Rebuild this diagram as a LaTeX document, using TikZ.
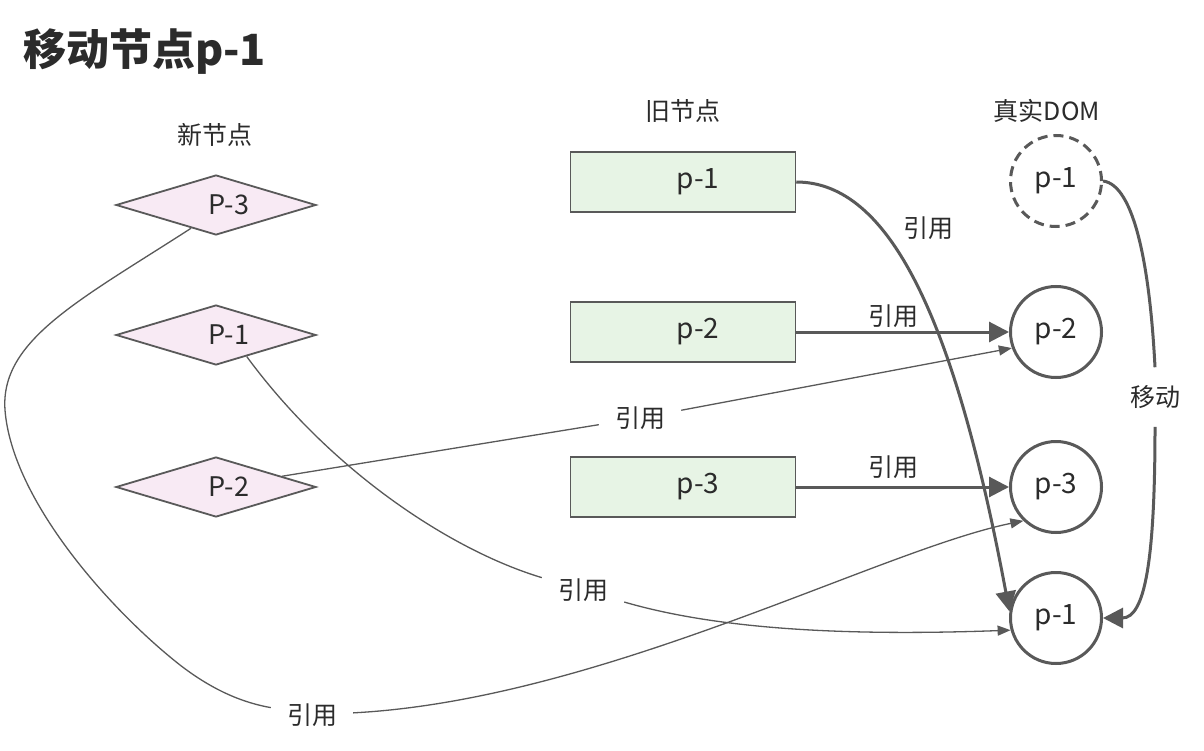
\documentclass[tikz,border=0pt]{standalone}
\usepackage{fontspec}
\setmainfont{Noto Sans CJK SC}
\usetikzlibrary{shapes.geometric,arrows.meta}
\definecolor{ln}{HTML}{595959}
\definecolor{tx}{HTML}{2B2B2B}
\definecolor{dfill}{HTML}{F8EAF4}
\definecolor{bfill}{HTML}{E7F4E5}
\begin{document}
\begin{tikzpicture}[x=1pt,y=-1pt,
  newd/.style={diamond, draw=ln, line width=1.8pt, fill=dfill, minimum width=200pt, minimum height=60pt, inner sep=0pt, aspect=3.3, font=\fontsize{27}{32}\selectfont, text=tx},
  oldb/.style={rectangle, draw=ln, line width=1.5pt, fill=bfill, minimum width=225pt, minimum height=60pt, inner sep=0pt, font=\fontsize{28}{33}\selectfont, text=tx},
  dom/.style={circle, draw=ln, line width=3pt, minimum size=91pt, inner sep=0pt, font=\fontsize{28}{33}\selectfont, text=tx},
  lbl/.style={font=\fontsize{25}{29}\selectfont, text=tx, inner sep=0pt},
  gaplbl/.style={lbl, inner xsep=16pt, inner ysep=6pt},
  mvlbl/.style={lbl, inner xsep=4pt, inner ysep=18pt},
  thickln/.style={draw=ln, line width=3pt},
  thickarr/.style={thickln, -{Triangle[length=20pt,width=20pt]}},
  thinln/.style={draw=ln, line width=1.3pt},
  thinarr/.style={thinln, -{Triangle[length=13pt,width=10pt]}}
]
\useasboundingbox (0,0) rectangle (1204,751);
\fill[white] (0,0) rectangle (1204,751);

% title and headers
\node[anchor=base west, font=\fontsize{43}{50}\selectfont\bfseries, text=tx, inner sep=0pt] (title) at (23,66) {移动节点p-1};
\node[lbl] (hnew) at (215,135) {新节点};
\node[lbl] (hold) at (683,111) {旧节点};
\node[lbl] (hdom) at (1047,111) {真实DOM};

% new nodes (diamonds)
\node[newd] (d3) at (216,205) {\hspace*{26pt}P-3};
\node[newd] (d1) at (216,335) {\hspace*{26pt}P-1};
\node[newd] (d2) at (216,487) {\hspace*{26pt}P-2};

% old nodes (boxes)
\node[oldb] (o1) at (683,182) {\hspace*{30pt}p-1};
\node[oldb] (o2) at (683,332) {\hspace*{30pt}p-2};
\node[oldb] (o3) at (683,487) {\hspace*{30pt}p-3};

% real DOM (circles)
\node[dom, dash pattern=on 10pt off 6pt] (c1) at (1056,181) {p-1};
\node[dom] (c2) at (1056,332) {p-2};
\node[dom] (c3) at (1056,487) {p-3};
\node[dom] (cb1) at (1056,618) {p-1};

% labels
\node[lbl] (lo1) at (928,228) {引用};
\node[lbl] (lo2) at (893,316) {引用};
\node[lbl] (lo3) at (893,467) {引用};
\node[gaplbl] (ln2) at (640,418) {引用};
\node[gaplbl] (ln1) at (583,590) {引用};
\node[gaplbl] (ln3) at (312,715) {引用};
\node[mvlbl] (mv) at (1155,397) {移动};

% thick arrows from old nodes
\draw[thickarr] (o2.east) -- (c2.west);
\draw[thickarr] (o3.east) -- (c3.west);
\draw[thickarr] (o1.east) .. controls (890,182) and (955,320) .. (cb1.172);

% move arrow
\draw[thickln] (c1.east) .. controls (1135,185) and (1150,270) .. (mv.north);
\draw[thickarr] (mv.south) .. controls (1155,560) and (1145,618) .. (cb1.east);

% thin arrows from new nodes
\draw[thinln] (d2) -- (ln2);
\draw[thinarr] (ln2) -- (c2.200);

\draw[thinln] (d1.325) .. controls (330,470) and (450,550) .. (ln1);
\draw[thinarr] (ln1) .. controls (720,630) and (850,636) .. (cb1.195);

\draw[thinln] (d3.223) .. controls (80,300) and (0,340) .. (5,410)
  .. controls (12,500) and (110,610) .. (180,665)
  .. controls (215,692) and (245,703) .. (ln3);
\draw[thinarr] (ln3) .. controls (600,700) and (880,550) .. (c3.226);
\end{tikzpicture}
\end{document}
